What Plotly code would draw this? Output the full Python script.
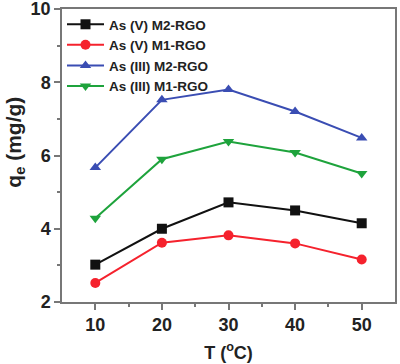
import plotly.graph_objects as go

temps = [10, 20, 30, 40, 50]
as5_m2 = [3.02, 4.0, 4.72, 4.5, 4.15]
as5_m1 = [2.52, 3.62, 3.82, 3.6, 3.16]
as3_m2 = [5.67, 7.52, 7.8, 7.2, 6.48]
as3_m1 = [4.29, 5.9, 6.38, 6.08, 5.51]
x_ticks = [10, 20, 30, 40, 50]
y_ticks = [2, 4, 6, 8, 10]

names = ["As (V) M2-RGO", "As (V) M1-RGO", "As (III) M2-RGO", "As (III) M1-RGO"]
colors = ["#111111", "#f5222d", "#3a4db3", "#1ea33c"]
symbols = ["square", "circle", "triangle-up", "triangle-down"]
series = [as5_m2, as5_m1, as3_m2, as3_m1]

FONT = "Arial, Liberation Sans, sans-serif"

fig = go.Figure()
for n, c, s, ys in zip(names, colors, symbols, series):
    fig.add_trace(go.Scatter(
        x=temps, y=ys, name=n, mode="lines+markers",
        line=dict(color=c, width=2),
        marker=dict(symbol=s, size=10, color=c),
    ))

axis_common = dict(
    showline=True, linecolor="#777777", linewidth=1.5, mirror=True,
    ticks="outside", ticklen=6, tickcolor="#777777", tickwidth=1.5,
    showgrid=False, zeroline=False, automargin=False,
    ticklabeloverflow="allow",
    tickfont=dict(family=FONT, size=18, color="#222222", weight="bold"),
)

fig.update_layout(
    width=400, height=364,
    margin=dict(l=62, r=5, t=9, b=62, autoexpand=False),
    plot_bgcolor="white", paper_bgcolor="white",
    showlegend=True,
    legend=dict(x=0.0, y=1.0, xanchor="left", yanchor="top",
                bgcolor="rgba(0,0,0,0)",
                font=dict(family=FONT, size=13.5, color="#222222", weight="bold"),
                tracegroupgap=0, itemwidth=37),
    xaxis=dict(range=[5, 55], tickvals=x_ticks,
               title=dict(text="T (<sup>o</sup>C)", standoff=12,
                          font=dict(family=FONT, size=18, color="#222222", weight="bold")),
               minor=dict(ticks="outside", ticklen=3, tickcolor="#777777", tickvals=[15, 25, 35, 45]),
               **axis_common),
    yaxis=dict(range=[2, 10], tickvals=y_ticks,
               minor=dict(ticks="outside", ticklen=3, tickcolor="#777777", tickvals=[3, 5, 7, 9]),
               **axis_common),
    annotations=[dict(text="q<sub>e</sub> (mg/g)", textangle=-90, showarrow=False,
                      xref="paper", yref="paper", x=-0.14, y=0.545,
                      xanchor="center", yanchor="middle",
                      font=dict(family=FONT, size=21, color="#222222", weight="bold"))],
)

fig.write_html("out.html", config={"displayModeBar": False},
               post_script="document.body.style.margin='0';document.body.style.padding='0';")
